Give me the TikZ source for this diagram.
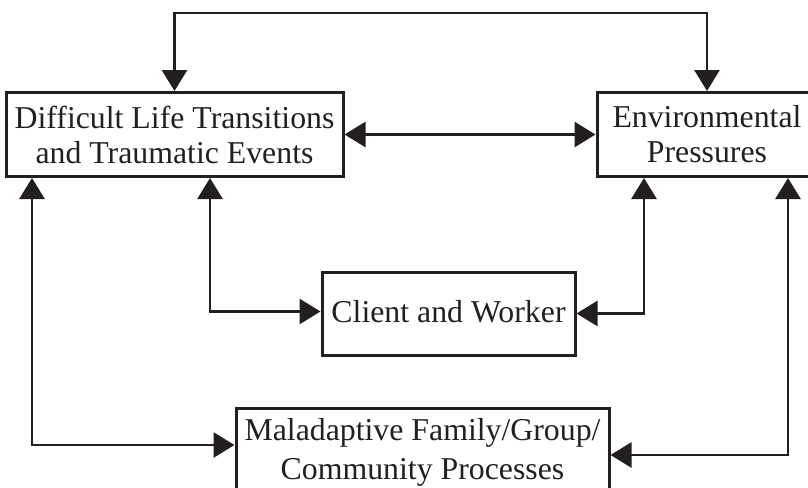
\documentclass[tikz,border=0pt]{standalone}
\usepackage{fontspec}
\setmainfont{Liberation Serif}
\usetikzlibrary{arrows.meta}
\definecolor{ink}{HTML}{231F20}
\begin{document}
\begin{tikzpicture}[x=1pt,y=-1pt,
  box/.style={draw=ink,line width=3pt,text=ink,align=center,inner sep=0pt,
    font=\fontsize{31.8}{35}\selectfont},
  link/.style={draw=ink,line width=2.8pt,
    {Triangle[length=21pt,width=25pt]}-{Triangle[length=21pt,width=25pt]}}]
\useasboundingbox (0,0) rectangle (808,487);
\clip (0,0) rectangle (808,487);
\node[box,minimum width=337pt,minimum height=84pt] (dlt) at (174.5,134.5)
  {Difficult Life Transitions\\and Traumatic Events};
\node[box,minimum width=220pt,minimum height=84pt] (env) at (707,134.5)
  {Environmental\\Pressures};
\node[box,minimum width=253pt,minimum height=83pt,text depth=5pt] (cw) at (448.5,313.5)
  {Client and Worker};
\node[box,minimum width=373pt,minimum height=88pt,
  font=\fontsize{31.8}{39}\selectfont] (mal) at (422.5,452)
  {Maladaptive Family/Group/\\Community Processes};
\coordinate (ytop) at (0,13);
\coordinate (xa) at (32,0);
\coordinate (xb) at (210,0);
\coordinate (xc) at (644,0);
\coordinate (xd) at (788,0);
\draw[link] (dlt.north) -- (dlt.north |- ytop) -| (env.north);
\draw[link] (dlt.east) -- (env.west);
\draw[link] (dlt.south -| xb) |- ([yshift=2pt]cw.west);
\draw[link] (env.south -| xc) |- (cw.east);
\draw[link] (dlt.south -| xa) |- ([yshift=7pt]mal.west);
\draw[link] (env.south -| xd) |- ([yshift=-3pt]mal.east);
\end{tikzpicture}
\end{document}
